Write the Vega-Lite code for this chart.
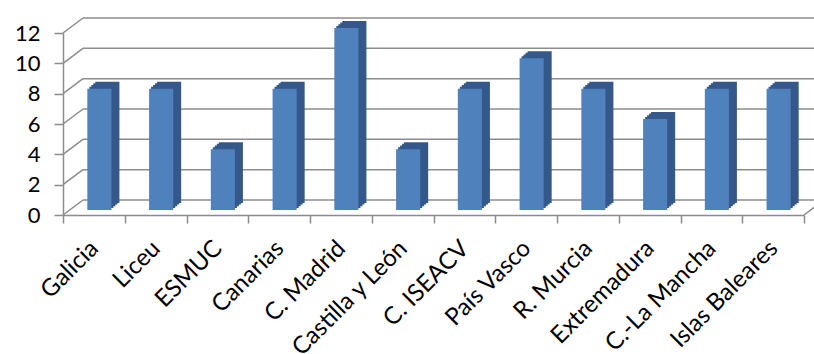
{
  "$schema": "https://vega.github.io/schema/vega-lite/v6.json",
  "width": 741,
  "height": 182,
  "autosize": {"type": "none"},
  "padding": {"left": 63, "top": 33, "right": 10, "bottom": 139},
  "background": "white",
  "config": {"view": {"stroke": null}, "font": "Lato"},
  "datasets": {
    "bars": [
      {"c": "Galicia", "v": 8},
      {"c": "Liceu", "v": 8},
      {"c": "ESMUC", "v": 4},
      {"c": "Canarias", "v": 8},
      {"c": "C. Madrid", "v": 12},
      {"c": "Castilla y León", "v": 4},
      {"c": "C. ISEACV", "v": 8},
      {"c": "País Vasco", "v": 10},
      {"c": "R. Murcia", "v": 8},
      {"c": "Extremadura", "v": 6},
      {"c": "C.-La Mancha", "v": 8},
      {"c": "Islas Baleares", "v": 8}
    ],
    "grid": [{"g": 0}, {"g": 2}, {"g": 4}, {"g": 6}, {"g": 8}, {"g": 10}, {"g": 12}]
  },
  "encoding": {
    "x": {"field": "c", "type": "nominal", "sort": null,
      "scale": {"paddingInner": 0, "paddingOuter": 0,
        "domain": ["Galicia", "Liceu", "ESMUC", "Canarias", "C. Madrid", "Castilla y León", "C. ISEACV", "País Vasco", "R. Murcia", "Extremadura", "C.-La Mancha", "Islas Baleares"]},
      "axis": {"title": null, "labelAngle": -45, "labelFontSize": 24, "labelColor": "#000000",
        "domainColor": "#8c8c8c", "domainWidth": 1.5, "tickColor": "#8c8c8c", "tickWidth": 1.5, "tickSize": 8,
        "tickBand": "extent", "labelPadding": 13, "labelOffset": -8}},
    "y": {"type": "quantitative",
      "scale": {"domain": [0, 12], "nice": false, "zero": true},
      "axis": {"title": null, "values": [0, 2, 4, 6, 8, 10, 12], "grid": false, "labelFontSize": 22, "labelColor": "#000000",
        "domainColor": "#8c8c8c", "domainWidth": 1.5, "tickColor": "#8c8c8c", "tickWidth": 1.5, "tickSize": 9, "labelPadding": 14}}
  },
  "layer": [
    {"data": {"name": "grid"},
     "mark": {"type": "rule", "color": "#8c8c8c", "strokeWidth": 1.5, "xOffset": 20, "x2Offset": 20, "yOffset": -15},
     "encoding": {"x": {"datum": "Galicia", "bandPosition": 0}, "x2": {"datum": "Islas Baleares", "bandPosition": 1},
       "y": {"field": "g", "type": "quantitative"}}},
    {"data": {"name": "grid"},
     "mark": {"type": "rule", "color": "#8c8c8c", "strokeWidth": 1.5, "x2Offset": 20, "y2Offset": -15},
     "encoding": {"x": {"datum": "Galicia", "bandPosition": 0}, "x2": {"datum": "Galicia", "bandPosition": 0},
       "y": {"field": "g", "type": "quantitative"}, "y2": {"field": "g"}}},
    {"data": {"values": [{"g": 0}]},
     "mark": {"type": "rule", "color": "#8c8c8c", "strokeWidth": 1.5, "x2Offset": 20, "y2Offset": -15},
     "encoding": {"x": {"datum": "Islas Baleares", "bandPosition": 1}, "x2": {"datum": "Islas Baleares", "bandPosition": 1},
       "y": {"field": "g", "type": "quantitative"}, "y2": {"field": "g"}}},
    {"data": {"name": "bars"}, "mark": {"type": "bar", "color": "#34588a", "width": {"band": 0.39}, "xOffset": 7.5, "yOffset": -7, "y2Offset": -7},
     "encoding": {"y": {"field": "v", "type": "quantitative"}}},
    {"data": {"name": "bars"}, "mark": {"type": "bar", "color": "#34588a", "width": {"band": 0.39}, "xOffset": 9.5, "yOffset": -8.75, "y2Offset": -8.75},
     "encoding": {"y": {"field": "v", "type": "quantitative"}}},
    {"data": {"name": "bars"}, "mark": {"type": "bar", "color": "#34588a", "width": {"band": 0.39}, "xOffset": 11.5, "yOffset": -10.5, "y2Offset": -10.5},
     "encoding": {"y": {"field": "v", "type": "quantitative"}}},
    {"data": {"name": "bars"}, "mark": {"type": "bar", "color": "#34588a", "width": {"band": 0.39}, "xOffset": 13.5, "yOffset": -12, "y2Offset": -12},
     "encoding": {"y": {"field": "v", "type": "quantitative"}}},
    {"data": {"name": "bars"}, "mark": {"type": "bar", "color": "#4f81bd", "width": {"band": 0.39}, "xOffset": 5.5, "yOffset": -5, "y2Offset": -5},
     "encoding": {"y": {"field": "v", "type": "quantitative"}}}
  ]
}
